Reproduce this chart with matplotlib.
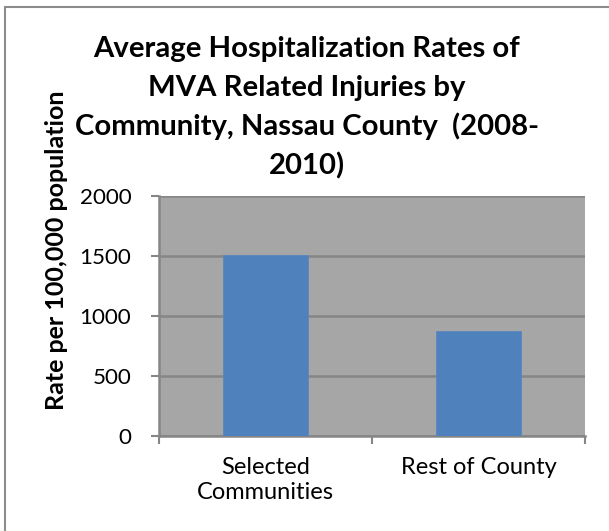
import matplotlib
matplotlib.use("Agg")
import matplotlib.pyplot as plt
from matplotlib.patches import Rectangle

# Data
categories = ["Selected\nCommunities", "Rest of County"]
rates = [1505, 877]
y_ticks = [0, 500, 1000, 1500, 2000]

title_lines = ["Average Hospitalization Rates of",
               "MVA Related Injuries by",
               "Community, Nassau County  (2008-",
               "2010)"]
y_label = "Rate per 100,000 population"

BAR_COLOR = "#4F81BD"
PLOT_BG = "#A6A6A6"
GRID_COLOR = "#868686"
AXIS_COLOR = "#868686"

W, H = 609, 531

plt.rcParams["font.family"] = ["Lato", "DejaVu Sans"]

fig = plt.figure(figsize=(W / 100, H / 100), dpi=100)
fig.patch.set_facecolor("white")
renderer = fig.canvas.get_renderer()


def fit_size(text, target_px, weight="normal", base=20.0):
    """font size so that text is target_px wide"""
    t = fig.text(0, 0, text, fontsize=base, fontweight=weight)
    w = t.get_window_extent(renderer=renderer).width
    t.remove()
    return base * target_px / w


# chart border (only top/left edges are inside the picture)
fig.add_artist(Rectangle((5 / W, -0.02), 1.1, 1 - 7 / H + 0.02,
                         transform=fig.transFigure, fill=False,
                         edgecolor="#8C8C8C", linewidth=1.5))

ax = fig.add_axes([159 / W, (H - 436) / H, 426 / W, 240 / H])
ax.set_facecolor(PLOT_BG)

x = list(range(len(categories)))
ax.bar(x, rates, width=0.4, color=BAR_COLOR, edgecolor="#5B87BF",
       linewidth=0.6, zorder=3)

tick_fs = fit_size("2000", 52)
cat_fs = fit_size("Rest of County", 156)

ax.set_xlim(-0.5, len(categories) - 0.5)
ax.set_ylim(0, 2000)
ax.set_yticks(y_ticks)
ax.set_yticklabels([str(v) for v in y_ticks], fontsize=tick_fs)
ax.yaxis.grid(True, color=GRID_COLOR, linewidth=1.8, zorder=1)
ax.set_axisbelow(True)

ax.set_xticks([-0.5, 0.5, 1.5])
ax.set_xticklabels([])
ax.set_xticks(x, minor=True)
ax.set_xticklabels(categories, minor=True, fontsize=cat_fs, linespacing=1.25)
ax.tick_params(axis="x", which="minor", length=0, pad=15)
ax.tick_params(axis="x", which="major", length=6, width=1.5,
               color=AXIS_COLOR, direction="out")
ax.tick_params(axis="y", length=6, width=1.5, color=AXIS_COLOR,
               direction="out", pad=14)

for s in ["top", "right"]:
    ax.spines[s].set_visible(False)
for s in ["left", "bottom"]:
    ax.spines[s].set_color(AXIS_COLOR)
    ax.spines[s].set_linewidth(1.8)

# title, one text per line so the baselines match
title_fs = fit_size(title_lines[0], 426, "bold")
for line, base_y in zip(title_lines, [57, 96, 135, 174]):
    fig.text(307 / W, (H - base_y) / H, line, ha="center", va="baseline",
             fontsize=title_fs, fontweight="bold")

ylab_fs = fit_size("population", 120, "bold")
fig.text(57 / W, (H - 250) / H, y_label, rotation=90, ha="center",
         va="center", fontsize=ylab_fs, fontweight="bold")

fig.savefig("out.png", dpi=100, facecolor=fig.get_facecolor())
